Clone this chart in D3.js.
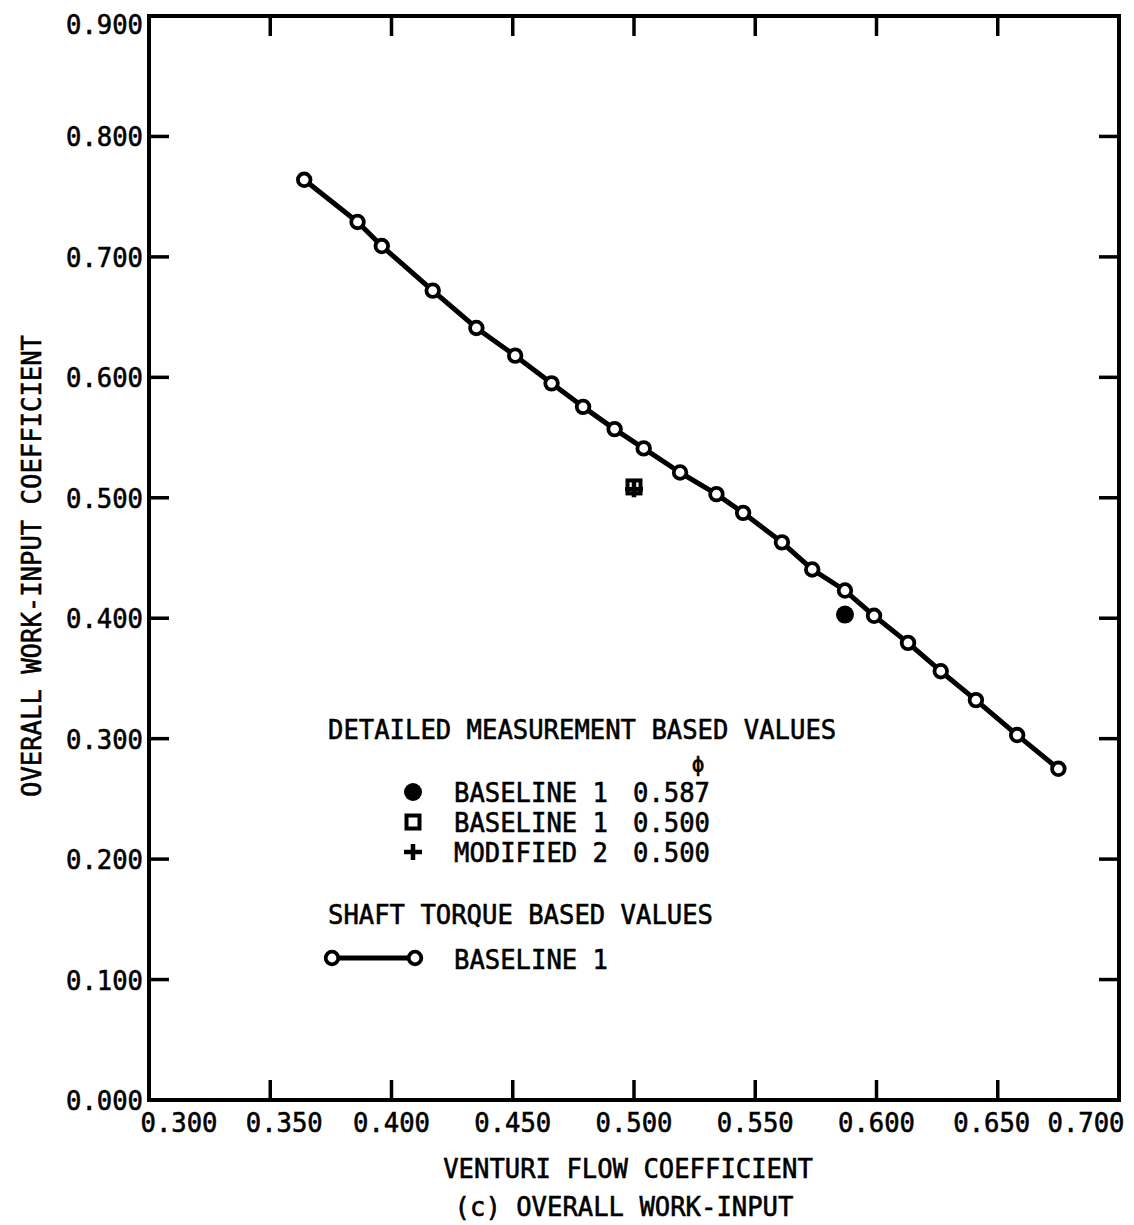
<!DOCTYPE html>
<html>
<head>
<meta charset="utf-8">
<script src="https://cdn.jsdelivr.net/npm/d3@7"></script>
<style>
  html, body { margin: 0; padding: 0; background: #fff; }
  svg { display: block; }
  text { font-family: "DejaVu Sans Mono", monospace; fill: #000; stroke: #000; stroke-width: 0.6px; }
</style>
</head>
<body>
<svg id="chart" width="1134" height="1225"></svg>
<script>
// Shaft-torque based values, baseline 1
const flowCoef = [0.364, 0.386, 0.396, 0.417, 0.435, 0.451, 0.466, 0.479, 0.492, 0.504, 0.519,
                  0.534, 0.545, 0.561, 0.5735, 0.587, 0.599, 0.613, 0.6265, 0.641, 0.658, 0.675];
const workCoef = [0.764, 0.729, 0.709, 0.672, 0.641, 0.618, 0.595, 0.5755, 0.557, 0.541, 0.521,
                  0.503, 0.4875, 0.463, 0.4405, 0.423, 0.402, 0.3795, 0.356, 0.332, 0.303, 0.275];

// Detailed-measurement based values
const detailNames  = ["BASELINE 1", "BASELINE 1", "MODIFIED 2"];
const detailPhi    = [0.587, 0.500, 0.500];
const detailWork   = [0.403, 0.509, 0.507];
const detailSymbol = ["dot", "square", "plus"];

// Axis ticks
const xTicks = [0.300, 0.350, 0.400, 0.450, 0.500, 0.550, 0.600, 0.650, 0.700];
const yTicks = [0.000, 0.100, 0.200, 0.300, 0.400, 0.500, 0.600, 0.700, 0.800, 0.900];

const xTitle = "VENTURI FLOW COEFFICIENT";
const subTitle = "(c) OVERALL WORK-INPUT";
const yTitle = "OVERALL WORK-INPUT COEFFICIENT";
const legendHead1 = "DETAILED MEASUREMENT BASED VALUES";
const legendHead2 = "SHAFT TORQUE BASED VALUES";
const legendLineName = "BASELINE 1";

const svg = d3.select("#chart");
const FS = 27;        // lettering size
const ADV = 15.4;     // character pitch of the lettering
const fmt = d3.format(".3f");

// Narrow, evenly pitched lettering
function label(parent, str, px, py, anchor = "start", transform = null) {
  const t = parent.append("text")
    .attr("x", px).attr("y", py)
    .attr("text-anchor", anchor)
    .attr("font-size", FS)
    .attr("textLength", str.length * ADV)
    .attr("lengthAdjust", "spacingAndGlyphs")
    .text(str);
  if (transform) t.attr("transform", transform);
  return t;
}

const x = d3.scaleLinear().domain([0.3, 0.7]).range([149, 1119]);
const y = d3.scaleLinear().domain([0, 0.9]).range([1100, 16]);

const [x0, x1] = x.range();
const [y0, y1] = y.range();
const TICK = 20;

// Frame
svg.append("rect")
  .attr("x", x0).attr("y", y1)
  .attr("width", x1 - x0).attr("height", y0 - y1)
  .attr("fill", "none").attr("stroke", "#000").attr("stroke-width", 4);

// Inward ticks on all four sides
const g = svg.append("g").attr("stroke", "#000").attr("stroke-width", 3.5);
xTicks.slice(1, -1).forEach(v => {
  g.append("line").attr("x1", x(v)).attr("x2", x(v)).attr("y1", y0).attr("y2", y0 - TICK);
  g.append("line").attr("x1", x(v)).attr("x2", x(v)).attr("y1", y1).attr("y2", y1 + TICK);
});
yTicks.slice(1, -1).forEach(v => {
  g.append("line").attr("x1", x0).attr("x2", x0 + TICK).attr("y1", y(v)).attr("y2", y(v));
  g.append("line").attr("x1", x1).attr("x2", x1 - TICK).attr("y1", y(v)).attr("y2", y(v));
});

// Y tick labels
const yl = svg.append("g");
yTicks.forEach(d => label(yl, fmt(d), 143, y(d) + (d === 0.9 ? 18 : 10), "end"));

// X tick labels (end labels pulled inward, clear of the corners)
const xShift = v => v === 0.3 ? 30 : v === 0.35 ? 14 : v === 0.65 ? -6 : v === 0.7 ? -33 : 0;
const xl = svg.append("g");
xTicks.forEach(d => label(xl, fmt(d), x(d) + xShift(d), 1132, "middle"));

// Axis titles
label(svg, xTitle, 628, 1178, "middle");
label(svg, subTitle, 624, 1216, "middle");
label(svg, yTitle, 0, 0, "middle", "translate(41,566) rotate(-90)");

// Symbol drawing helpers
function drawSymbol(sel, kind, cx, cy) {
  if (kind === "dot") {
    sel.append("circle").attr("cx", cx).attr("cy", cy).attr("r", 9).attr("fill", "#000");
  } else if (kind === "square") {
    sel.append("rect").attr("x", cx - 6.5).attr("y", cy - 6.5).attr("width", 13).attr("height", 13)
      .attr("fill", "none").attr("stroke", "#000").attr("stroke-width", 4);
  } else if (kind === "plus") {
    sel.append("path").attr("d", `M${cx - 9},${cy}H${cx + 9}M${cx},${cy - 8}V${cy + 8}`)
      .attr("stroke", "#000").attr("stroke-width", 4.5).attr("fill", "none");
  }
}

// Shaft torque curve
const pts = flowCoef.map((f, i) => [f, workCoef[i]]);
svg.append("path")
  .attr("d", d3.line().x(d => x(d[0])).y(d => y(d[1]))(pts))
  .attr("fill", "none").attr("stroke", "#000").attr("stroke-width", 5)
  .attr("stroke-linejoin", "round");
svg.append("g").selectAll("circle").data(pts).join("circle")
  .attr("cx", d => x(d[0])).attr("cy", d => y(d[1])).attr("r", 6.3)
  .attr("fill", "#fff").attr("stroke", "#000").attr("stroke-width", 3.8);

// Detailed measurement points
const dg = svg.append("g");
detailPhi.forEach((p, i) => drawSymbol(dg, detailSymbol[i], x(p), y(detailWork[i])));

// Legend
label(svg, legendHead1, 328, 739);
svg.append("text").attr("x", 698).attr("y", 772).attr("text-anchor", "middle")
  .attr("font-size", 21).text("\u03D5");
const rowY = [802, 832, 862];
const lg = svg.append("g");
detailNames.forEach((name, i) => {
  drawSymbol(lg, detailSymbol[i], 413, rowY[i] - 10);
  label(lg, name, 454, rowY[i]);
  label(lg, fmt(detailPhi[i]), 633, rowY[i]);
});
label(svg, legendHead2, 328, 924);
svg.append("line").attr("x1", 332).attr("x2", 415).attr("y1", 958).attr("y2", 958)
  .attr("stroke", "#000").attr("stroke-width", 5);
[332, 415].forEach(cx => svg.append("circle").attr("cx", cx).attr("cy", 958).attr("r", 6.3)
  .attr("fill", "#fff").attr("stroke", "#000").attr("stroke-width", 3.8));
label(svg, legendLineName, 454, 969);
</script>
</body>
</html>
